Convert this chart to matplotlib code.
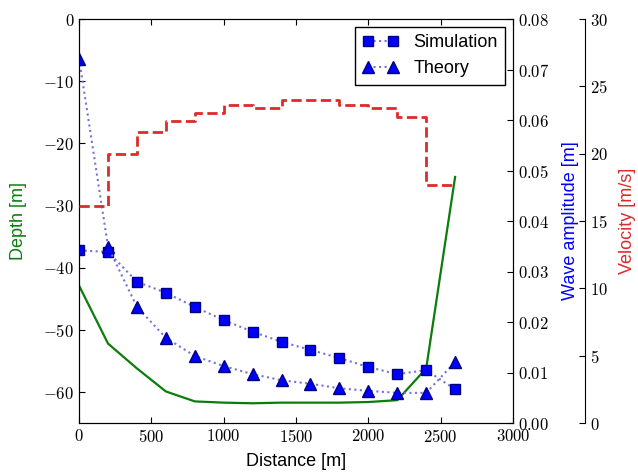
import matplotlib
matplotlib.use('Agg')
import matplotlib.pyplot as plt
from matplotlib.ticker import FuncFormatter, MultipleLocator
import numpy as np

# distancias de los puntos (m)
distance = [0, 200, 400, 600, 800, 1000, 1200, 1400, 1600, 1800, 2000, 2200, 2400, 2600]
depth = [-42.9, -52.2, -56.2, -59.9, -61.5, -61.7, -61.8, -61.7, -61.7, -61.7,
         -61.6, -61.3, -56.2, -25.4]
# velocidad por tramo (0-200, 200-400, ...)
velocity = [16.1, 20.0, 21.6, 22.4, 23.0, 23.6, 23.4, 24.0, 24.0, 23.6, 23.4, 22.7, 17.7]
sim_amp = [0.0342, 0.0339, 0.0280, 0.0258, 0.0230, 0.0204, 0.0181, 0.0161, 0.0145,
           0.0129, 0.0111, 0.0097, 0.0105, 0.0067]
theory_amp = [0.0721, 0.0349, 0.0230, 0.0169, 0.0133, 0.0113, 0.0097, 0.0085, 0.0078,
              0.0069, 0.0064, 0.0060, 0.0060, 0.0121]

plt.rcParams['mathtext.fontset'] = 'cm'
plt.rcParams['font.family'] = ['Liberation Sans', 'DejaVu Sans']
plt.rcParams['xtick.direction'] = 'in'
plt.rcParams['ytick.direction'] = 'in'
plt.rcParams['xtick.major.size'] = 4
plt.rcParams['ytick.major.size'] = 4

def fmt_int(v, pos):
    return r'$%d$' % round(v)

def fmt_amp(v, pos):
    return r'$%.2f$' % v

fig = plt.figure(figsize=(6.38, 4.76), dpi=100)
ax = fig.add_axes([0.124, 0.111, 0.68, 0.849])
ax2 = ax.twinx()
ax3 = ax.twinx()

GREEN = '#0a7d0a'
RED = '#dd2a2a'
LINE = (0.45, 0.45, 0.85)

# profundidad
ax.plot(distance, depth, color=GREEN, lw=1.6)
ax.set_xlim(0, 3000)
ax.set_ylim(-65, 0)
ax.xaxis.set_major_locator(MultipleLocator(500))
ax.yaxis.set_major_locator(MultipleLocator(10))
ax.xaxis.set_major_formatter(FuncFormatter(fmt_int))
ax.yaxis.set_major_formatter(FuncFormatter(fmt_int))
ax.tick_params(top=True, right=False, labelsize=12)
ax.set_xlabel('Distance [m]', fontsize=13, labelpad=6)
ax.set_ylabel('Depth [m]', color=GREEN, fontsize=13, labelpad=12)

# amplitud
ax2.plot(distance, sim_amp, ls=':', color=LINE, marker='s', ms=7,
         mfc='blue', mec='#000080', label='Simulation')
ax2.plot(distance, theory_amp, ls=':', color=LINE, marker='^', ms=8,
         mfc='blue', mec='#000080', label='Theory')
ax2.set_ylim(0, 0.08)
ax2.yaxis.set_major_locator(MultipleLocator(0.01))
ax2.yaxis.set_major_formatter(FuncFormatter(fmt_amp))
ax2.tick_params(labelsize=12)
ax2.set_ylabel('Wave amplitude [m]', color='blue', fontsize=13, labelpad=9)

# velocidad
ax3.step(distance, np.append(velocity, velocity[-1]), where='post',
         color=RED, ls='--', lw=2)
ax3.set_ylim(0, 30)
ax3.yaxis.set_major_locator(MultipleLocator(5))
ax3.yaxis.set_major_formatter(FuncFormatter(fmt_int))
ax3.tick_params(labelsize=12)
ax3.spines['right'].set_position(('axes', 1.166))
for s in ['left', 'top', 'bottom']:
    ax3.spines[s].set_visible(False)
ax3.set_ylabel('Velocity [m/s]', color=RED, fontsize=13, labelpad=8)

h, l = ax2.get_legend_handles_labels()
leg = ax3.legend(h, l, loc='upper right', numpoints=2, handlelength=2.0,
                 fontsize=13, fancybox=False, edgecolor='black', framealpha=1,
                 borderaxespad=0.45)
leg.get_frame().set_linewidth(1.0)

fig.savefig('out.png', dpi=100)
